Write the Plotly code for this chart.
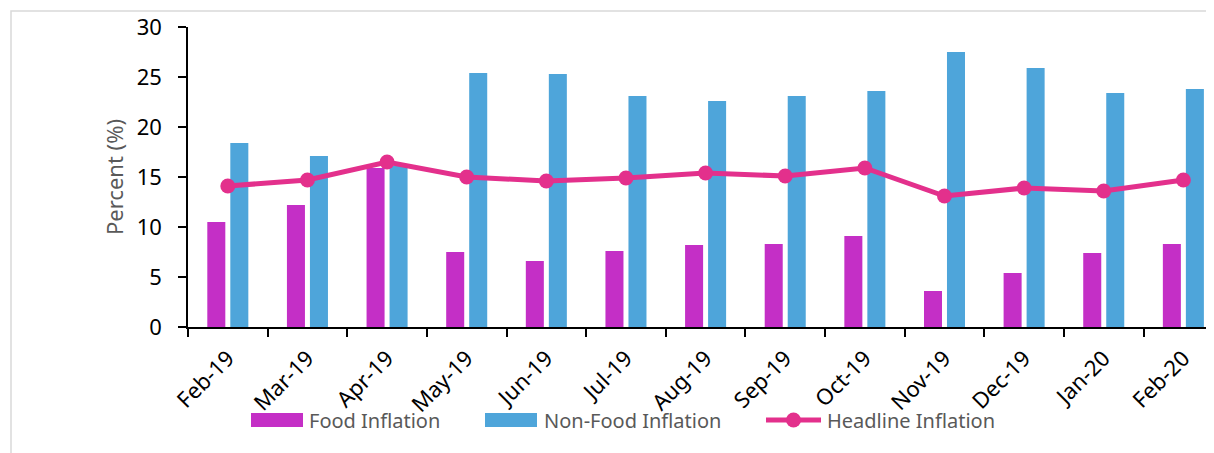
import plotly.graph_objects as go

months = ["Feb-19", "Mar-19", "Apr-19", "May-19", "Jun-19", "Jul-19", "Aug-19",
          "Sep-19", "Oct-19", "Nov-19", "Dec-19", "Jan-20", "Feb-20"]
food_inflation = [10.5, 12.2, 15.9, 7.5, 6.6, 7.6, 8.2, 8.3, 9.1, 3.6, 5.4, 7.4, 8.3]
nonfood_inflation = [18.4, 17.1, 16.1, 25.4, 25.3, 23.1, 22.6, 23.1, 23.6, 27.5, 25.9, 23.4, 23.8]
headline_inflation = [14.1, 14.7, 16.5, 15.0, 14.6, 14.9, 15.4, 15.1, 15.9, 13.1, 13.9, 13.6, 14.7]
y_ticks = [0, 5, 10, 15, 20, 25, 30]

PURPLE = "#C42FC6"
BLUE = "#4EA5DA"
PINK = "#E3308C"
GREY_TXT = "#595959"
FONT = "Noto Sans"

# page body has an 8px margin; figure is placed at (8, 8) in the window
OFF = 8
W, H = 1214 - OFF, 453 - OFF
L, R, T, B = 188 - OFF, 0, 27 - OFF, 453 - 327
PW, PH = W - L - R, H - T - B


def px(x):
    # screen x -> paper x
    return (x - OFF - L) / PW


def py(y):
    # screen y -> paper y
    return (H - B - (y - OFF)) / PH


fig = go.Figure()
fig.add_trace(go.Bar(x=months, y=food_inflation, name="Food Inflation",
                     marker=dict(color=PURPLE, line=dict(width=0))))
fig.add_trace(go.Bar(x=months, y=nonfood_inflation, name="Non-Food Inflation",
                     marker=dict(color=BLUE, line=dict(width=0))))
fig.add_trace(go.Scatter(x=months, y=headline_inflation, name="Headline Inflation",
                         mode="lines+markers",
                         line=dict(color=PINK, width=5),
                         marker=dict(color=PINK, size=15)))

cat_w = 79.63
x_max = -0.5 + PW / cat_w

fig.update_layout(
    width=W, height=H,
    margin=dict(l=L, r=R, t=T, b=B, pad=0),
    paper_bgcolor="white", plot_bgcolor="white",
    showlegend=False,
    barmode="group", bargap=0.422, bargroupgap=0.217,
    font=dict(family=FONT, color="black"),
    xaxis=dict(type="category", range=[-0.5, x_max], showgrid=False,
               showline=True, linecolor="black", linewidth=1.5,
               ticks="outside", tickson="boundaries", ticklen=8, tickwidth=1.5,
               tickcolor="black", tickangle=-45,
               tickfont=dict(family=FONT, size=22, color="black"),
               ticklabelstandoff=8),
    yaxis=dict(range=[0, 30], tickvals=y_ticks, showgrid=False, zeroline=False,
               showline=True, linecolor="black", linewidth=1.5,
               ticks="outside", ticklen=8, tickwidth=1.5, tickcolor="black",
               tickfont=dict(family=FONT, size=22, color="black"),
               ticklabelstandoff=12),
)

shapes = []
# outer chart border (light grey)
shapes.append(dict(type="rect", xref="paper", yref="paper",
                   x0=px(11), x1=px(1214 + 20), y0=py(453 + 20), y1=py(11),
                   line=dict(color="#D9D9D9", width=1.5), fillcolor="rgba(0,0,0,0)",
                   layer="below"))
# custom legend
legend_y = 420
shapes.append(dict(type="rect", xref="paper", yref="paper",
                   x0=px(251), x1=px(303), y0=py(427), y1=py(413),
                   line=dict(width=0), fillcolor=PURPLE))
shapes.append(dict(type="rect", xref="paper", yref="paper",
                   x0=px(485), x1=px(537), y0=py(427), y1=py(413),
                   line=dict(width=0), fillcolor=BLUE))
shapes.append(dict(type="line", xref="paper", yref="paper",
                   x0=px(766), x1=px(821), y0=py(legend_y), y1=py(legend_y),
                   line=dict(color=PINK, width=5)))
shapes.append(dict(type="circle", xref="paper", yref="paper",
                   x0=px(786), x1=px(801), y0=py(427.5), y1=py(412.5),
                   line=dict(width=0), fillcolor=PINK))
fig.update_layout(shapes=shapes)

annotations = [
    dict(text="Percent (%)", xref="paper", yref="paper", x=px(114), y=py(177),
         xanchor="center", yanchor="middle", textangle=-90, showarrow=False,
         font=dict(family=FONT, size=22, color=GREY_TXT)),
]
for x_left, label in [(307, "Food Inflation"), (542, "Non-Food Inflation"),
                      (825, "Headline Inflation")]:
    annotations.append(dict(text=label, xref="paper", yref="paper",
                            x=px(x_left), y=py(legend_y), xanchor="left",
                            yanchor="middle", showarrow=False,
                            font=dict(family=FONT, size=20, color=GREY_TXT)))
fig.update_layout(annotations=annotations)

fig.write_html("out.html")
